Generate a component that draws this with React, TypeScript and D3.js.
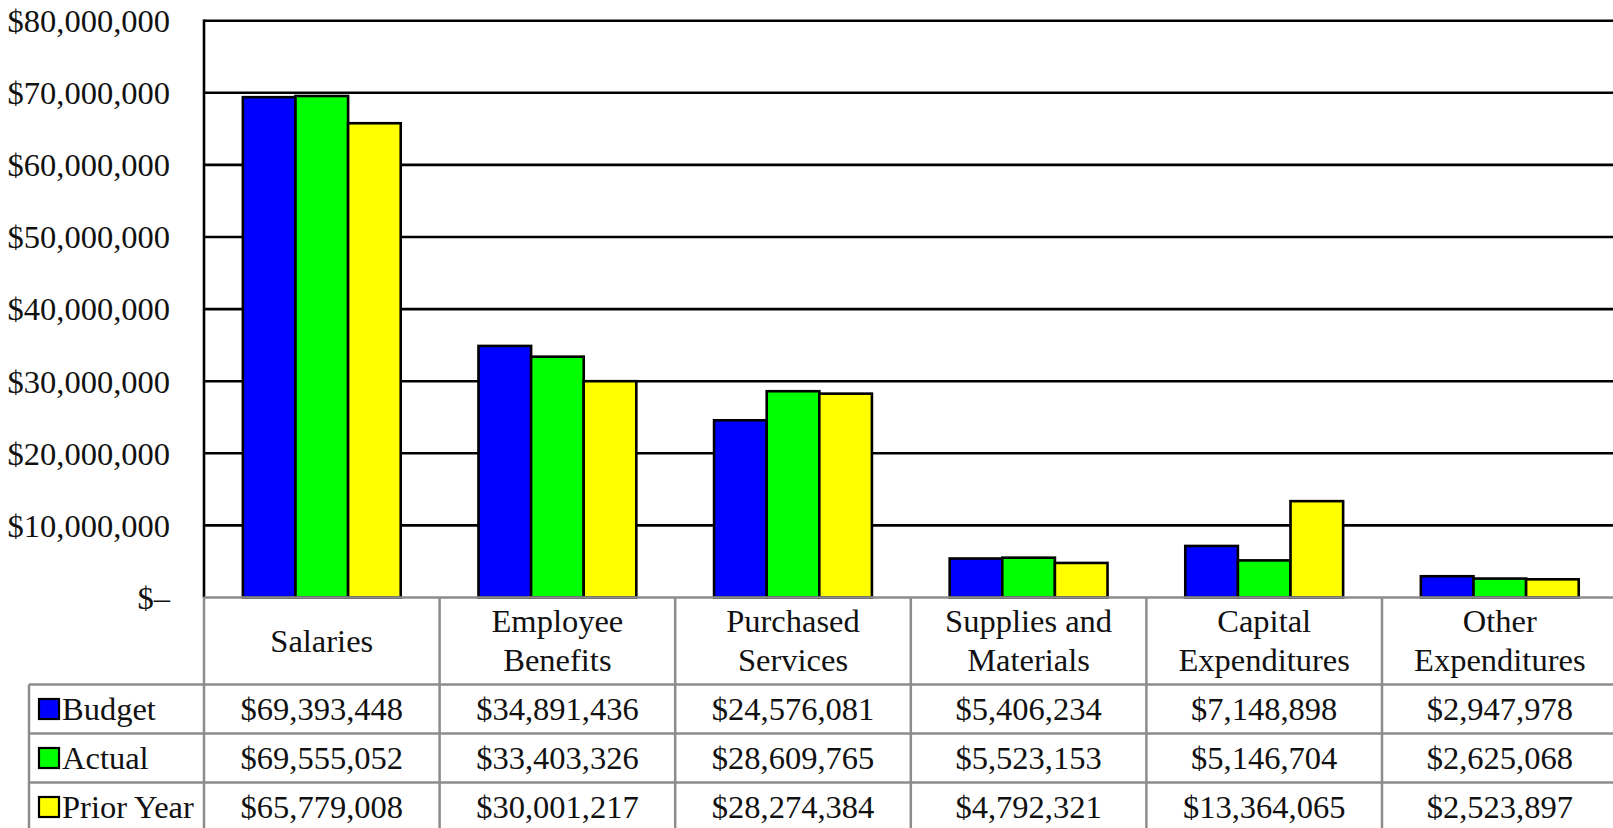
import React from "react";
import * as d3 from "d3";

const categories = [
  "Salaries",
  "Employee Benefits",
  "Purchased Services",
  "Supplies and Materials",
  "Capital Expenditures",
  "Other Expenditures",
];
const categoryLines = [
  ["Salaries"],
  ["Employee", "Benefits"],
  ["Purchased", "Services"],
  ["Supplies and", "Materials"],
  ["Capital", "Expenditures"],
  ["Other", "Expenditures"],
];
const seriesNames = ["Budget", "Actual", "Prior Year"];
const budget = [69393448, 34891436, 24576081, 5406234, 7148898, 2947978];
const actual = [69555052, 33403326, 28609765, 5523153, 5146704, 2625068];
const priorYear = [65779008, 30001217, 28274384, 4792321, 13364065, 2523897];
const seriesValues = [budget, actual, priorYear];
const seriesColors = ["#0000ff", "#00ff00", "#ffff00"];
const yTicks = [0, 10000000, 20000000, 30000000, 40000000, 50000000, 60000000, 70000000, 80000000];

const W = 1613;
const H = 828;
const plotLeft = 204;
const plotRight = 1617.6;
const plotTop = 20.7;
const plotBottom = 597.5;
const headerBottom = 684.5;
const rowH = 49;
const legendLeft = 29;
const font = "'Liberation Serif', 'Times New Roman', serif";
const fs = 32.5;
const gridColor = "#000";
const tableColor = "#8c8c8c";

const fmtMoney = (v: number) => (v === 0 ? "$\u2013" : "$" + d3.format(",")(v));

export default function App() {
  const x0 = d3.scaleBand<string>().domain(categories).range([plotLeft, plotRight]).paddingInner(0).paddingOuter(0);
  const bw = x0.bandwidth();
  const groupW = bw * 0.67;
  const x1 = d3.scaleBand<string>().domain(seriesNames).range([0, groupW]).padding(0);
  const y = d3.scaleLinear().domain([0, 80000000]).range([plotBottom, plotTop]);

  const rowTop = (i: number) => headerBottom + i * rowH;

  return (
    <svg
      width={W}
      height={H}
      style={{ position: "absolute", left: 0, top: 0, background: "#fff" }}
      fontFamily={font}
    >
      <rect x={0} y={0} width={W} height={H} fill="#fff" />
      {/* gridlines */}
      {yTicks.map((t) => (
        <line key={"g" + t} x1={plotLeft} x2={plotRight} y1={y(t)} y2={y(t)} stroke={gridColor} strokeWidth={t === 0 ? 0 : 2.6} />
      ))}
      {/* y tick labels */}
      {yTicks.map((t) => (
        <text key={"yl" + t} x={170} y={y(t)} dy="0.35em" textAnchor="end" fontSize={fs} fill="#111">
          {fmtMoney(t)}
        </text>
      ))}
      {/* bars */}
      {categories.map((c, ci) => (
        <g key={c} transform={`translate(${(x0(c) as number) + (bw - groupW) / 2},0)`}>
          {seriesNames.map((s, si) => {
            const v = seriesValues[si][ci];
            return (
              <rect
                key={s}
                x={x1(s) as number}
                y={y(v)}
                width={x1.bandwidth()}
                height={plotBottom - y(v)}
                fill={seriesColors[si]}
                stroke="#000"
                strokeWidth={2.6}
              />
            );
          })}
        </g>
      ))}
      {/* left axis */}
      <line x1={plotLeft} x2={plotLeft} y1={plotTop - 1.3} y2={plotBottom} stroke="#000" strokeWidth={2.6} />
      {/* table lines */}
      <line x1={plotLeft} x2={plotRight} y1={plotBottom} y2={plotBottom} stroke={tableColor} strokeWidth={2.5} />
      {[0, 1, 2].map((i) => (
        <line key={"rl" + i} x1={legendLeft} x2={plotRight} y1={rowTop(i)} y2={rowTop(i)} stroke={tableColor} strokeWidth={2.5} />
      ))}
      <line x1={legendLeft} x2={legendLeft} y1={headerBottom} y2={H + 5} stroke={tableColor} strokeWidth={2.5} />
      {categories.map((c) => (
        <line key={"vl" + c} x1={x0(c) as number} x2={x0(c) as number} y1={plotBottom} y2={H + 5} stroke={tableColor} strokeWidth={2.5} />
      ))}
      <line x1={plotRight} x2={plotRight} y1={plotBottom} y2={H + 5} stroke={tableColor} strokeWidth={2.5} />
      {/* header labels */}
      {categories.map((c, ci) => {
        const lines = categoryLines[ci];
        const cx = (x0(c) as number) + bw / 2;
        const cy = (plotBottom + headerBottom) / 2;
        const lh = 38.5;
        return (
          <text key={"h" + c} x={cx} textAnchor="middle" fontSize={fs} fill="#111">
            {lines.map((l, li) => (
              <tspan key={li} x={cx} y={cy + (li - (lines.length - 1) / 2) * lh} dy="0.33em">
                {l}
              </tspan>
            ))}
          </text>
        );
      })}
      {/* legend + values */}
      {seriesNames.map((s, si) => {
        const cy = rowTop(si) + rowH / 2;
        return (
          <g key={"row" + s}>
            <rect x={39} y={cy - 10} width={20} height={20} fill={seriesColors[si]} stroke="#000" strokeWidth={2.2} />
            <text x={62} y={cy} dy="0.35em" fontSize={fs} fill="#111">
              {s}
            </text>
            {categories.map((c, ci) => (
              <text key={c} x={(x0(c) as number) + bw / 2} y={cy} dy="0.35em" textAnchor="middle" fontSize={fs} fill="#111">
                {fmtMoney(seriesValues[si][ci])}
              </text>
            ))}
          </g>
        );
      })}
    </svg>
  );
}
